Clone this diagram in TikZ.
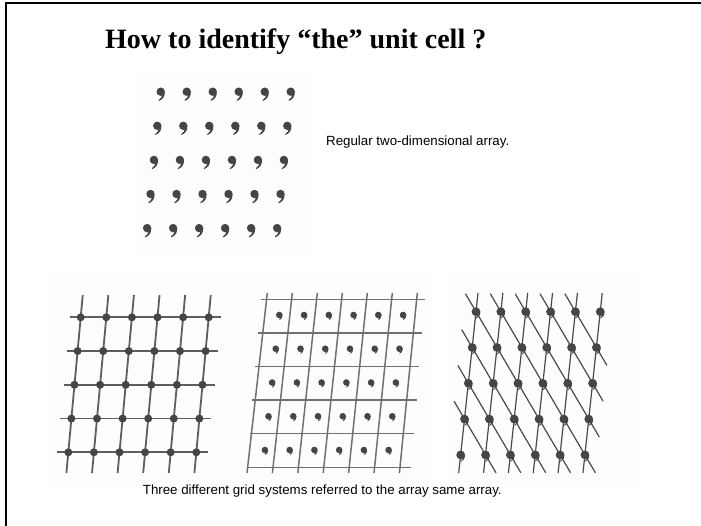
\documentclass[tikz,border=0pt]{standalone}
\usepackage{fontspec}
\setmainfont{Liberation Serif}
\newfontfamily\arialf{Liberation Sans}
\usetikzlibrary{calc}
\definecolor{commacol}{HTML}{454545}
\definecolor{bgpanel}{HTML}{FDFDFD}
\definecolor{gridA}{HTML}{5E5E5E}
\definecolor{gridB}{HTML}{707070}
\definecolor{gridC}{HTML}{4A4A4A}
\tikzset{
  comma/.pic={
    \fill[commacol] (0,0) circle (4.2pt);
    \fill[commacol] (4.0,0) .. controls (4.4,4.5) and (2.2,7.8) .. (-1.8,9.2) -- (-2.1,8.3) .. controls (0.3,6.8) and (1.3,5) .. (1.2,3.6) -- cycle;
  },
  smallcomma/.pic={
    \fill[commacol] (0,0) circle (4.4pt);
    \fill[commacol] (4.2,0) .. controls (4.4,3.5) and (2.8,5.8) .. (0.2,6.8) -- (0,6.0) .. controls (1.5,5) and (2,4) .. (1.8,3) -- cycle;
  },
  panel/.style={fill=bgpanel, draw=none},
  lineA/.style={draw=gridA, line width=1.8pt},
  lineB/.style={draw=gridB, line width=1.5pt},
  lineC/.style={draw=gridC, line width=1.2pt},
  titletext/.style={font=\fontsize{28}{32}\selectfont\bfseries, inner sep=0pt, anchor=base west},
  captext/.style={font=\arialf\fontsize{13.3}{15}\selectfont, inner sep=0pt, anchor=base west},
}
\begin{document}
\begin{tikzpicture}[x=1pt,y=-1pt]
\useasboundingbox (0,0) rectangle (701,526);
% frame
\draw[line width=2pt] (5.5,526) -- (5.5,3.5) -- (701,3.5);
% title
\node[titletext] (title) at (105,49) {How to identify “the” unit cell ?};
% top panel
\fill[panel] (137,73) rectangle (312,252);
\foreach \r in {0,...,4}{
  \foreach \c in {0,...,5}{
    \pic at ({160.7+26*\c-3.4*\r},{91.7+34.1*\r}) {comma};
  }
}
\node[captext] (reg) at (326,146) {Regular two-dimensional array.};
% bottom panels
\fill[panel] (50,277) rectangle (243,483);
\fill[panel] (245,277) rectangle (433,483);
\fill[panel] (449,277) rectangle (638,483);
% ---- left grid
\foreach \r in {0,...,4}{
  \draw[lineA] ({80.7-3.1*\r-11},{317.3+33.75*\r}) -- ({80.7-3.1*\r+25.6*5+12},{317.3+33.75*\r});
}
\foreach \c in {0,...,5}{
  \draw[lineA] ({80.7+25.6*\c+2.05},295) -- ({80.7+25.6*\c-14.3},473);
}
\foreach \r in {0,...,4}{
  \foreach \c in {0,...,5}{
    \fill[commacol] ({80.7+25.6*\c-3.1*\r},{317.3+33.75*\r}) circle (4pt);
  }
}
% ---- middle grid
\foreach \k in {0,...,5}{
  \draw[lineB] ({260.7-2.8*\k},{299.3+33.6*\k}) -- ({425-2.8*\k},{299.3+33.6*\k});
}
\foreach \k in {0,...,6}{
  \draw[lineB] ({267.3+25*\k},293) -- ({247+25.4*\k},473);
}
\foreach \r in {0,...,4}{
  \foreach \c in {0,...,5}{
    \pic[scale=0.75] at ({279.3+24.75*\c-3.6*\r},{315+33.75*\r}) {smallcomma};
  }
}
% ---- right grid
\foreach \r in {0,...,4}{
  \foreach \c in {0,...,5}{
    \coordinate (R-\r-\c) at ({476-3.83*\r+24.85*\c},{311.7+35.8*\r});
  }
}
\foreach \c in {0,...,5}{
  \draw[lineC] ($(R-0-\c)+(2.0,-18.7)$) -- ($(R-0-\c)+(-17.3,161.3)$);
}
\foreach \c/\k in {0/4,1/4,2/3,3/2,4/1}{
  \pgfmathtruncatemacro{\e}{\c+\k}
  \draw[lineC] ($(R-0-\c)+(-10.5,-17.9)$) -- ($(R-\k-\e)+(10.5,17.9)$);
}
\foreach \r/\k in {1/3,2/2,3/1}{
  \pgfmathtruncatemacro{\rr}{\r+\k}
  \draw[lineC] ($(R-\r-0)+(-10.5,-17.9)$) -- ($(R-\rr-\k)+(10.5,17.9)$);
}
\foreach \r in {0,...,4}{
  \foreach \c in {0,...,5}{
    \pic[scale=1.0] at (R-\r-\c) {smallcomma};
  }
}
\node[captext] (cap) at (142.7,494) {Three different grid systems referred to the array same array.};
\end{tikzpicture}
\end{document}
